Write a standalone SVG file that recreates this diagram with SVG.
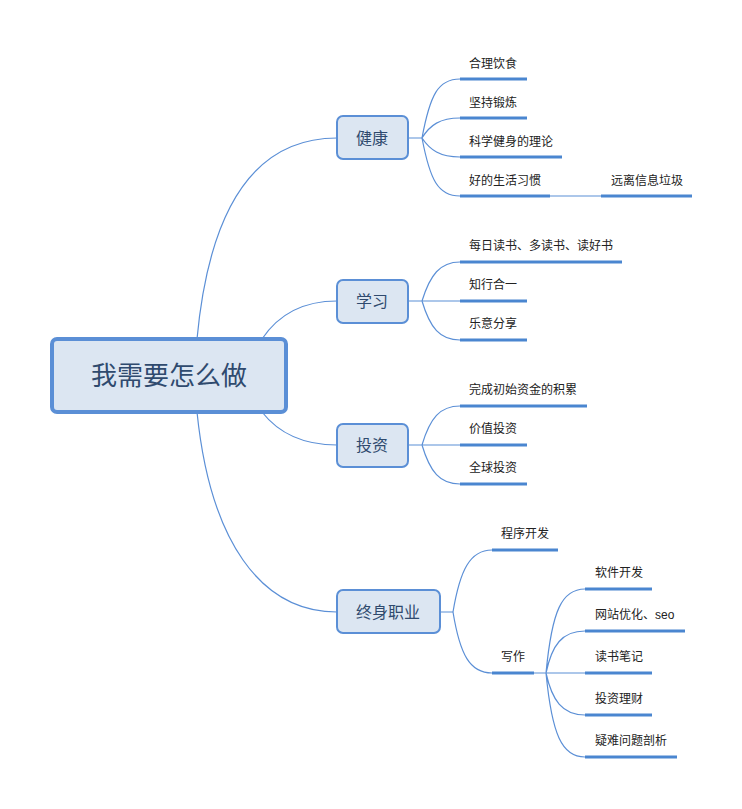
<svg xmlns="http://www.w3.org/2000/svg" width="742" height="809" viewBox="0 0 742 809">
<style>
.c{fill:none;stroke:#5b8fd6;stroke-width:1.2}
.u{stroke:#4a86d0;stroke-width:3}
.t{font-family:"Liberation Sans","Noto Sans CJK SC",sans-serif;font-size:12px;fill:#222}
.b{fill:#dce6f2;stroke:#5b8fd6;stroke-width:2}
.bt{font-family:"Liberation Sans","Noto Sans CJK SC",sans-serif;font-size:16px;fill:#2f4a6e;text-anchor:middle}
</style>
<rect width="742" height="809" fill="#fff"/>
<g id="connectors">
<path class="c" d="M197,339 C210,200 260,138 337,138"/>
<path class="c" d="M262,339 C280,312 305,301 337,301"/>
<path class="c" d="M262,412 C280,435 305,445 337,445"/>
<path class="c" d="M197,412 C210,540 260,612 337,612"/>
<path class="c" d="M408,138 H422 M408,301 H422 M408,445 H422 M440,612 H453"/>
<path class="c" d="M422,138 C430,95 438,79 460,79 M422,138 C430,125 440,118 460,118 M422,138 C430,150 440,157 460,157 M422,138 C430,180 438,196 460,196 M550,196 H601"/>
<path class="c" d="M422,301 C430,275 440,262 460,262 M422,301 H460 M422,301 C430,328 440,340 460,340"/>
<path class="c" d="M422,445 C430,418 440,406 460,406 M422,445 H460 M422,445 C430,472 440,484 460,484"/>
<path class="c" d="M453,612 C460,570 470,550 492,550 M453,612 C460,655 470,673 492,673 M534,673 H585"/>
<path class="c" d="M546,673 C552,610 562,589 585,589 M546,673 C552,645 562,631 585,631 M546,673 C552,700 562,715 585,715 M546,673 C552,735 562,757 585,757"/>
</g>
<g id="root"><rect x="52" y="339" width="234" height="73" rx="5" fill="#dce6f2" stroke="#5b8fd6" stroke-width="4"/><text x="169" y="385" class="bt" style="font-size:26px">我需要怎么做</text></g>
<g id="n1"><rect class="b" x="337" y="116" width="71" height="43" rx="6"/><text class="bt" x="372" y="144">健康</text></g>
<g id="n2"><rect class="b" x="337" y="280" width="71" height="43" rx="6"/><text class="bt" x="372" y="307">学习</text></g>
<g id="n3"><rect class="b" x="337" y="424" width="71" height="43" rx="6"/><text class="bt" x="372" y="451">投资</text></g>
<g id="n4"><rect class="b" x="337" y="590" width="103" height="43" rx="6"/><text class="bt" x="388" y="618">终身职业</text></g>
<g id="l1"><line class="u" x1="460" y1="79" x2="527" y2="79"/><text class="t" x="469" y="68">合理饮食</text></g>
<g id="l2"><line class="u" x1="460" y1="118" x2="527" y2="118"/><text class="t" x="469" y="107">坚持锻炼</text></g>
<g id="l3"><line class="u" x1="460" y1="157" x2="562" y2="157"/><text class="t" x="469" y="146">科学健身的理论</text></g>
<g id="l4"><line class="u" x1="460" y1="196" x2="550" y2="196"/><text class="t" x="469" y="185">好的生活习惯</text></g>
<g id="l5"><line class="u" x1="601" y1="196" x2="692" y2="196"/><text class="t" x="611" y="185">远离信息垃圾</text></g>
<g id="l6"><line class="u" x1="460" y1="262" x2="622" y2="262"/><text class="t" x="469" y="250">每日读书、多读书、读好书</text></g>
<g id="l7"><line class="u" x1="460" y1="301" x2="527" y2="301"/><text class="t" x="469" y="289">知行合一</text></g>
<g id="l8"><line class="u" x1="460" y1="340" x2="527" y2="340"/><text class="t" x="469" y="328">乐意分享</text></g>
<g id="l9"><line class="u" x1="460" y1="406" x2="587" y2="406"/><text class="t" x="469" y="394">完成初始资金的积累</text></g>
<g id="l10"><line class="u" x1="460" y1="445" x2="527" y2="445"/><text class="t" x="469" y="433">价值投资</text></g>
<g id="l11"><line class="u" x1="460" y1="484" x2="527" y2="484"/><text class="t" x="469" y="472">全球投资</text></g>
<g id="l12"><line class="u" x1="492" y1="550" x2="558" y2="550"/><text class="t" x="501" y="538">程序开发</text></g>
<g id="l13"><line class="u" x1="492" y1="673" x2="534" y2="673"/><text class="t" x="501" y="661">写作</text></g>
<g id="l14"><line class="u" x1="585" y1="589" x2="652" y2="589"/><text class="t" x="595" y="577">软件开发</text></g>
<g id="l15"><line class="u" x1="585" y1="631" x2="685" y2="631"/><text class="t" x="595" y="619">网站优化、seo</text></g>
<g id="l16"><line class="u" x1="585" y1="673" x2="652" y2="673"/><text class="t" x="595" y="661">读书笔记</text></g>
<g id="l17"><line class="u" x1="585" y1="715" x2="652" y2="715"/><text class="t" x="595" y="703">投资理财</text></g>
<g id="l18"><line class="u" x1="585" y1="757" x2="677" y2="757"/><text class="t" x="595" y="745">疑难问题剖析</text></g>
</svg>
